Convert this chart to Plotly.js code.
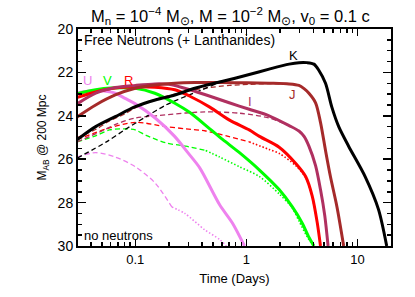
<!DOCTYPE html>
<html>
<head>
<meta charset="utf-8">
<script src="https://cdn.plot.ly/plotly-3.0.1.min.js"></script>
<style>html,body{margin:0;padding:0;background:#fff;}#chart{width:415px;height:297px;}</style>
</head>
<body>
<div id="chart"></div>
<script>
// ---- data (time in days, AB magnitude @ 200 Mpc) ----
// with free neutrons (solid)
const uX = [0.03, 0.04, 0.05, 0.066, 0.081, 0.1, 0.151, 0.227, 0.297, 0.38, 0.574, 0.75, 0.96];
const uY = [22.95, 22.85, 22.85, 22.96, 23.2, 23.45, 24.1, 24.96, 25.7, 26.4, 28.1, 28.95, 30];
const vX = [0.03, 0.044, 0.06, 0.1, 0.15, 0.227, 0.31, 0.468, 0.614, 0.866, 1.31, 1.97, 2.59, 3.18, 3.65, 4.05];
const vY = [22.98, 22.8, 22.72, 22.73, 22.96, 23.42, 23.85, 24.6, 25.1, 25.7, 26.5, 27.4, 28.2, 28.95, 29.6, 30];
const rX = [0.03, 0.044, 0.066, 0.1, 0.15, 0.227, 0.31, 0.468, 0.705, 1.06, 1.31, 1.97, 2.78, 3.41, 3.91, 4.33, 4.64];
const rY = [23.15, 22.9, 22.72, 22.66, 22.68, 22.8, 23.1, 23.6, 24.2, 24.65, 24.95, 25.45, 26.2, 26.8, 27.7, 28.9, 30];
const iX = [0.03, 0.044, 0.066, 0.1, 0.15, 0.2, 0.31, 0.47, 0.7, 1.06, 1.6, 2.42, 2.97, 3.3, 3.65, 4.19, 4.64, 5.07, 5.43];
const iY = [23.45, 22.96, 22.7, 22.6, 22.53, 22.55, 22.8, 23.1, 23.4, 23.7, 24.0, 24.45, 24.7, 24.95, 25.4, 26.3, 27.4, 28.6, 30];
const jX = [0.03, 0.044, 0.066, 0.1, 0.151, 0.227, 0.343, 0.6, 1.0, 1.6, 2.42, 2.97, 3.3, 3.65, 4.19, 4.64, 5.15, 5.7, 6.53, 7.5];
const jY = [24.05, 23.5, 23.04, 22.73, 22.58, 22.5, 22.47, 22.47, 22.48, 22.5, 22.53, 22.6, 22.75, 22.96, 23.4, 24.3, 25.6, 26.8, 28.2, 30];
const kX = [0.03, 0.044, 0.066, 0.1, 0.151, 0.227, 0.343, 0.6, 1.06, 1.6, 2.42, 2.97, 3.5, 4.05, 4.48, 5.15, 5.87, 6.77, 8.31, 11.7, 15.4, 18.3];
const kY = [25.1, 24.5, 24.04, 23.58, 23.27, 23.04, 22.73, 22.42, 22.1, 21.85, 21.62, 21.55, 21.55, 21.62, 21.9, 22.5, 23.6, 24.5, 25.4, 26.8, 28.3, 30];
// no neutrons (dashed / dotted)
const udX = [0.03, 0.044, 0.066, 0.1, 0.151, 0.213, 0.279, 0.421, 0.574, 0.66];
const udY = [25.9, 25.7, 25.9, 26.35, 27.1, 28.2, 28.5, 29.25, 29.7, 30];
const vdX = [0.03, 0.045, 0.0586, 0.083, 0.1, 0.125, 0.189, 0.285, 0.43, 0.574, 0.866, 1.31, 1.97, 2.59, 2.97, 3.5, 4.0];
const vdY = [25.2, 24.9, 24.65, 24.6, 24.65, 24.9, 25.25, 25.4, 25.6, 25.9, 26.35, 26.8, 27.6, 28.25, 28.85, 29.55, 30];
const rdX = [0.03, 0.055, 0.1, 0.189, 0.285, 0.43, 0.7, 1.06, 1.6, 2.0, 2.78, 3.41, 3.91, 4.33, 4.64];
const rdY = [25.1, 24.6, 24.3, 24.5, 24.6, 24.7, 24.96, 25.2, 25.55, 25.75, 26.3, 26.85, 27.75, 28.9, 30];
const idX = [0.03, 0.05, 0.07, 0.1, 0.154, 0.285, 0.43, 0.87, 1.6, 2.42];
const idY = [25.2, 24.7, 24.35, 24.1, 24.0, 23.87, 23.82, 23.88, 24.1, 24.45];
const jdX = [0.03, 0.045, 0.057, 0.081, 0.117, 0.189, 0.3, 0.43, 0.705, 1.06, 1.6, 2.42];
const jdY = [25.0, 24.6, 24.27, 23.9, 23.45, 23.1, 22.85, 22.72, 22.6, 22.55, 22.52, 22.53];
const kdX = [0.03, 0.055, 0.083, 0.125, 0.189, 0.285, 0.4, 0.55, 0.8];
const kdY = [25.95, 25.2, 24.6, 24.04, 23.5, 23.1, 22.8, 22.5, 22.28];

const bandNames = ["U", "V", "R", "I", "J", "K"];
const xTickVals = [0.1, 1, 10];
const xTickText = ["0.1", "1", "10"];
const yTickVals = [20, 22, 24, 26, 28, 30];

// ---- styling ----
const colors = {U: "#ee82ee", V: "#00ff00", R: "#ff0000", I: "#b03060", J: "#a52a2a", K: "#000000"};
const solidSets = {U: [uX, uY], V: [vX, vY], R: [rX, rY], I: [iX, iY], J: [jX, jY], K: [kX, kY]};
const dashSets = {U: [udX, udY], V: [vdX, vdY], R: [rdX, rdY], I: [idX, idY], J: [jdX, jdY], K: [kdX, kdY]};
const dotFrom = {U: 0.2, V: 0.3, R: 1.0, I: 100, J: 100, K: 100};

const traces = [];
function splitTrace(xs, ys, cut, color) {
  const a = {x: [], y: []}, b = {x: [], y: []};
  for (let i = 0; i < xs.length; i++) {
    if (xs[i] <= cut) { a.x.push(xs[i]); a.y.push(ys[i]); }
    if (xs[i] >= cut) { b.x.push(xs[i]); b.y.push(ys[i]); }
  }
  if (b.x.length && a.x.length && a.x[a.x.length - 1] < b.x[0]) { a.x.push(b.x[0]); a.y.push(b.y[0]); }
  traces.push({x: a.x, y: a.y, type: "scatter", mode: "lines", hoverinfo: "skip",
    line: {color: color, width: 1.3, dash: "5px,3px", shape: "spline", smoothing: 0.8}});
  if (b.x.length > 1) traces.push({x: b.x, y: b.y, type: "scatter", mode: "lines", hoverinfo: "skip",
    line: {color: color, width: 1.6, dash: "1.5px,2px", shape: "spline", smoothing: 0.8}});
}
bandNames.forEach(b => {
  splitTrace(dashSets[b][0], dashSets[b][1], dotFrom[b], colors[b]);
});
bandNames.forEach(b => {
  traces.push({x: solidSets[b][0], y: solidSets[b][1], type: "scatter", mode: "lines", hoverinfo: "skip",
    line: {color: colors[b], width: 3, shape: "spline", smoothing: 0.8}});
});

const labelPos = {U: [0.037, 22.35], V: [0.0558, 22.35], R: [0.087, 22.35], I: [1.07, 23.35], J: [2.58, 23.04], K: [2.64, 21.2]};
const fnt = "Liberation Sans, Arial, sans-serif";
const annotations = bandNames.map(b => ({
  x: Math.log10(labelPos[b][0]), y: labelPos[b][1], xref: "x", yref: "y", text: b, showarrow: false,
  font: {family: fnt, size: 13, color: colors[b]}
}));
annotations.push({x: 0.014, y: 0.995, xref: "paper", yref: "paper", xanchor: "left", yanchor: "top",
  text: "Free Neutrons (+ Lanthanides)", showarrow: false, font: {family: fnt, size: 14, color: "#000"}});
annotations.push({x: 0.014, y: 0.005, xref: "paper", yref: "paper", xanchor: "left", yanchor: "bottom",
  text: "no neutrons", showarrow: false, font: {family: fnt, size: 13, color: "#000"}});

const sp = "\u00a0";
const layout = {
  width: 415, height: 297,
  margin: {l: 78, r: 24, t: 29, b: 51},
  paper_bgcolor: "#fff", plot_bgcolor: "#fff",
  showlegend: false,
  font: {family: fnt, size: 13, color: "#000"},
  title: {text: "M<sub>n</sub>" + sp + "=" + sp + "10<sup>−4</sup>" + sp + "M<sub>⊙</sub>," + sp + "M" + sp + "=" + sp +
      "10<sup>−2</sup>" + sp + "M<sub>⊙</sub>," + sp + "v<sub>0</sub>" + sp + "=" + sp + "0.1" + sp + "c",
    x: 0.555, xanchor: "center", y: 0.965, yanchor: "top", font: {family: fnt, size: 16.5, color: "#000"}},
  xaxis: {type: "log", range: [Math.log10(0.0305), Math.log10(20)], tickvals: xTickVals, ticktext: xTickText,
    ticks: "inside", ticklen: 7, tickwidth: 1.5, tickcolor: "#000", mirror: "ticks",
    showline: true, linecolor: "#000", linewidth: 2, showgrid: false, zeroline: false,
    minor: {ticks: "inside", ticklen: 4, tickwidth: 1.5, tickcolor: "#000", dtick: "D1", showgrid: false},
    tickfont: {family: fnt, size: 13},
    title: {text: "Time (Days)", font: {family: fnt, size: 13}, standoff: 8}},
  yaxis: {range: [30, 20], tickvals: yTickVals,
    ticks: "inside", ticklen: 8, tickwidth: 1.5, tickcolor: "#000", mirror: "ticks",
    showline: true, linecolor: "#000", linewidth: 2, showgrid: false, zeroline: false,
    minor: {ticks: "inside", ticklen: 4, tickwidth: 1.5, tickcolor: "#000", dtick: 0.5, showgrid: false},
    tickfont: {family: fnt, size: 14},
    title: {text: "M<sub>AB</sub> @ 200 Mpc", font: {family: fnt, size: 12}, standoff: 8}},
  annotations: annotations
};
Plotly.newPlot("chart", traces, layout, {staticPlot: true, displayModeBar: false});
</script>
</body>
</html>
